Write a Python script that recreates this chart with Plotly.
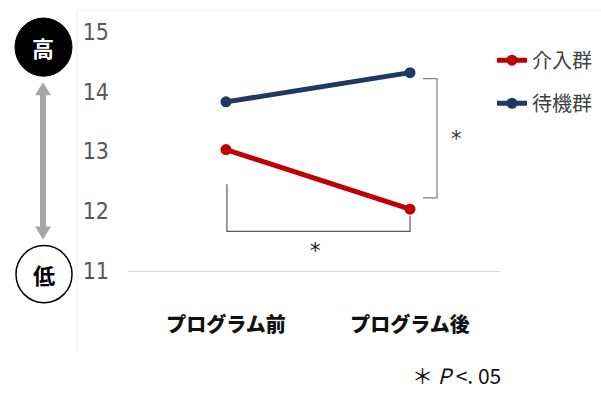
import plotly.graph_objects as go

categories = ["プログラム前", "プログラム後"]
intervention = [13.03, 12.03]
waiting = [13.83, 14.32]
series_names = ["介入群", "待機群"]
y_ticks = [11, 12, 13, 14, 15]

# reference pixel grid (601 x 403); figure height compensates the viewport
W, H = 601, 403
FIG_H = 417
def px(x):
    return x / W
def py(y):
    return 1 - y / H

x_idx = [0, 1]

fig = go.Figure()
fig.add_trace(go.Scatter(
    x=x_idx, y=intervention, name=series_names[0], mode="lines+markers",
    line=dict(color="#c00000", width=5), marker=dict(color="#c00000", size=11),
    legend="legend"))
fig.add_trace(go.Scatter(
    x=x_idx, y=waiting, name=series_names[1], mode="lines+markers",
    line=dict(color="#1f3864", width=5), marker=dict(color="#1f3864", size=11),
    legend="legend2"))

# plot-area pixel geometry
L, R, T, B = 128, 500, 10, 270
c0, c1 = 226, 410
unit = c1 - c0
xr0 = -(c0 - L) / unit
xr1 = xr0 + (R - L) / unit
ypu = 59.5
yr1 = 11 + (B - T) / ypu

leg_font = dict(family="Noto Sans CJK JP", size=20, color="#404040")
fig.update_layout(
    width=W, height=FIG_H, autosize=False,
    margin=dict(l=0, r=0, t=0, b=0),
    paper_bgcolor="white", plot_bgcolor="white",
    showlegend=True,
    xaxis=dict(domain=[px(L), px(R)], range=[xr0, xr1], tickvals=x_idx, ticktext=categories,
               showgrid=False, zeroline=False, showline=True, linecolor="#d9d9d9", linewidth=1,
               ticks="", ticklabelstandoff=36,
               tickfont=dict(family="Noto Sans CJK JP", size=20, color="#111111", weight=900)),
    yaxis=dict(domain=[py(B), py(T)], range=[11, yr1], tickvals=y_ticks,
               showgrid=False, zeroline=False, showline=False, ticks="", ticklabelstandoff=18,
               tickfont=dict(family="Liberation Sans Narrow, DejaVu Sans Condensed", size=23, color="#595959")),
    legend=dict(x=px(492), y=py(60), xanchor="left", yanchor="middle", xref="paper", yref="paper",
                font=leg_font, itemwidth=30, bgcolor="rgba(0,0,0,0)"),
    legend2=dict(x=px(492), y=py(103), xanchor="left", yanchor="middle", xref="paper", yref="paper",
                 font=leg_font, itemwidth=30, bgcolor="rgba(0,0,0,0)"),
)

shapes = []
# faint frame lines
shapes.append(dict(type="line", xref="paper", yref="paper", x0=px(77), x1=px(77), y0=py(10), y1=py(352),
                   line=dict(color="#eeeeee", width=1)))
shapes.append(dict(type="line", xref="paper", yref="paper", x0=px(77), x1=px(601), y0=py(10), y1=py(10),
                   line=dict(color="#f2f2f2", width=1)))
# right bracket
bx = (437 - c0) / unit
btx = (423 - c0) / unit
shapes.append(dict(type="path", xref="x", yref="y",
                   path=f"M {btx} 14.22 L {bx} 14.22 L {bx} 12.22 L {btx} 12.22",
                   line=dict(color="#7f7f7f", width=1.2)))
# bottom bracket
shapes.append(dict(type="path", xref="x", yref="y",
                   path="M 0.005 12.45 L 0.005 11.66 L 1.0 11.66 L 1.0 11.92",
                   line=dict(color="#595959", width=1.2)))
# gray double arrow
ax = 43
shapes.append(dict(type="line", xref="paper", yref="paper", x0=px(ax), x1=px(ax), y0=py(93), y1=py(228),
                   line=dict(color="#a6a6a6", width=6)))
shapes.append(dict(type="path", xref="paper", yref="paper",
                   path=f"M {px(ax)} {py(82)} L {px(ax-8)} {py(95)} L {px(ax+8)} {py(95)} Z",
                   fillcolor="#a6a6a6", line=dict(width=0)))
shapes.append(dict(type="path", xref="paper", yref="paper",
                   path=f"M {px(ax)} {py(239)} L {px(ax-8)} {py(226)} L {px(ax+8)} {py(226)} Z",
                   fillcolor="#a6a6a6", line=dict(width=0)))
# circles
shapes.append(dict(type="circle", xref="paper", yref="paper", x0=px(15), x1=px(72), y0=py(18), y1=py(76),
                   fillcolor="black", line=dict(color="black", width=1)))
shapes.append(dict(type="circle", xref="paper", yref="paper", x0=px(16), x1=px(72), y0=py(245), y1=py(302),
                   fillcolor="white", line=dict(color="black", width=1.5)))
fig.update_layout(shapes=shapes)

def ann(x, y, text, font, xanchor="center"):
    return dict(x=px(x), y=py(y), xref="paper", yref="paper", text=text, showarrow=False,
                xanchor=xanchor, yanchor="middle", font=font)

annotations = [
    ann(43, 47, "<b>高</b>", dict(family="Noto Sans CJK JP", size=22, color="white")),
    ann(44, 273, "<b>低</b>", dict(family="Noto Sans CJK JP", size=22, color="black")),
    ann(456, 139, "*", dict(family="DejaVu Sans", size=21, color="#333333")),
    ann(315, 250, "*", dict(family="DejaVu Sans", size=21, color="#111111")),
    ann(410, 374, "＊ <i>P</i> &lt;. 05", dict(family="Liberation Sans Narrow, Noto Sans CJK JP", size=21, color="#111111"),
        xanchor="left"),
]
fig.update_layout(annotations=annotations)

post = (
    "document.documentElement.style.margin='0';"
    "document.body.style.margin='0';"
    "var gd=document.querySelector('.plotly-graph-div');"
    "gd.style.position='fixed';gd.style.left='0px';gd.style.top='0px';"
)
fig.write_html("out.html", config={"displayModeBar": False, "responsive": False}, post_script=post)
